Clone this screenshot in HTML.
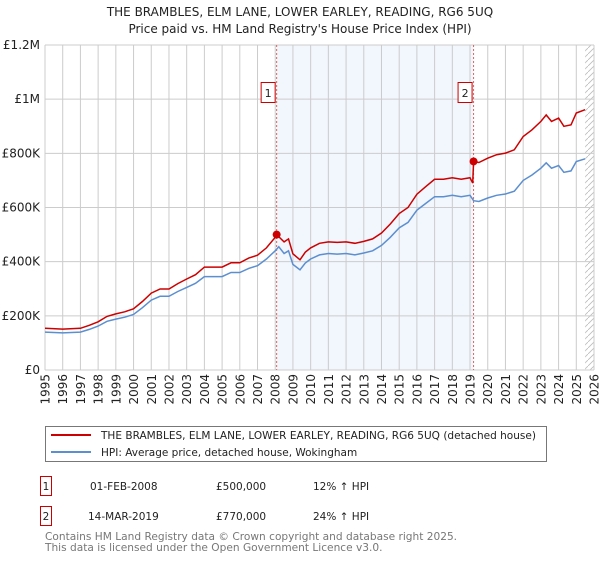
<!DOCTYPE html>
<html><head><meta charset="utf-8"><style>
body{margin:0;background:#fff;width:600px;height:560px;overflow:hidden;font-family:"DejaVu Sans","Liberation Sans",sans-serif;}
svg text{font-family:"DejaVu Sans","Liberation Sans",sans-serif;}
</style></head><body>
<svg id="chart" width="600" height="560" xmlns="http://www.w3.org/2000/svg">
<text x="300" y="16" text-anchor="middle" font-size="12" fill="#222">THE BRAMBLES, ELM LANE, LOWER EARLEY, READING, RG6 5UQ</text>
<text x="300" y="33" text-anchor="middle" font-size="12" fill="#222">Price paid vs. HM Land Registry's House Price Index (HPI)</text>
<g id="plot"></g>
<g>
<rect x="45.5" y="426.5" width="501" height="35" fill="#fff" stroke="#777"/>
<line x1="51" y1="435" x2="91" y2="435" stroke="#cc0000" stroke-width="2"/>
<text x="101" y="439" font-size="10.5" textLength="435" lengthAdjust="spacingAndGlyphs" fill="#222">THE BRAMBLES, ELM LANE, LOWER EARLEY, READING, RG6 5UQ (detached house)</text>
<line x1="51" y1="452" x2="91" y2="452" stroke="#5b8fd0" stroke-width="2"/>
<text x="101" y="456" font-size="10.5" fill="#222">HPI: Average price, detached house, Wokingham</text>
</g>
<g font-size="10.5" fill="#222">
<rect x="40.5" y="476.5" width="11" height="19" fill="#fff" stroke="#cc0000"/>
<text x="46" y="490" text-anchor="middle">1</text>
<text x="90" y="490">01-FEB-2008</text><text x="216" y="490">£500,000</text><text x="313" y="490">12% ↑ HPI</text>
<rect x="40.5" y="506.5" width="11" height="19" fill="#fff" stroke="#cc0000"/>
<text x="46" y="520" text-anchor="middle">2</text>
<text x="88" y="520">14-MAR-2019</text><text x="216" y="520">£770,000</text><text x="313" y="520">24% ↑ HPI</text>
</g>
<text x="45" y="540" font-size="10.6" fill="#777">Contains HM Land Registry data © Crown copyright and database right 2025.</text>
<text x="45" y="551" font-size="10.6" fill="#777">This data is licensed under the Open Government Licence v3.0.</text>
</svg>
<script>
const yearTicks=[1995,1996,1997,1998,1999,2000,2001,2002,2003,2004,2005,2006,2007,2008,2009,2010,2011,2012,2013,2014,2015,2016,2017,2018,2019,2020,2021,2022,2023,2024,2025,2026];
const valueTicks=[0,200000,400000,600000,800000,1000000,1200000];
const valueTickLabels=["£0","£200K","£400K","£600K","£800K","£1M","£1.2M"];
const hpiDates=[1995,1996,1997,1997.5,1998,1998.5,1999,1999.5,2000,2000.5,2001,2001.5,2002,2002.5,2003,2003.5,2004,2004.5,2005,2005.5,2006,2006.5,2007,2007.5,2008,2008.2,2008.5,2008.75,2009,2009.4,2009.7,2010,2010.5,2011,2011.5,2012,2012.5,2013,2013.5,2014,2014.5,2015,2015.5,2016,2016.5,2017,2017.5,2018,2018.5,2019,2019.2,2019.5,2020,2020.5,2021,2021.5,2022,2022.5,2023,2023.3,2023.6,2024,2024.3,2024.7,2025,2025.5];
const hpiValues=[140,137,140,150,162,180,188,195,205,230,258,272,272,290,305,320,345,345,345,360,360,375,385,410,440,455,430,440,390,370,395,410,425,430,428,430,425,432,440,460,490,525,545,590,615,640,640,645,640,645,625,622,635,645,650,660,700,720,745,765,745,755,730,735,770,780];
const priceDates=[1995,1996,1997,1997.5,1998,1998.5,1999,1999.5,2000,2000.5,2001,2001.5,2002,2002.5,2003,2003.5,2004,2004.5,2005,2005.5,2006,2006.5,2007,2007.5,2008,2008.08,2008.5,2008.75,2009,2009.4,2009.7,2010,2010.5,2011,2011.5,2012,2012.5,2013,2013.5,2014,2014.5,2015,2015.5,2016,2016.5,2017,2017.5,2018,2018.5,2019,2019.15,2019.2,2019.5,2020,2020.5,2021,2021.5,2022,2022.5,2023,2023.3,2023.6,2024,2024.3,2024.7,2025,2025.5];
const priceValues=[154,151,154,165,178,198,207,215,226,253,284,299,299,319,336,352,380,380,380,396,396,413,424,451,490,500,473,484,429,407,435,451,468,473,471,473,468,475,484,506,539,578,600,649,677,704,704,710,704,710,690,770,766,782,795,801,813,862,887,918,942,918,930,900,905,949,961];
const saleDates=[2008.08,2019.2];
const saleValues=[500,770];
const saleLabels=["1","2"];

const NS="http://www.w3.org/2000/svg";
const L=45,R=594,T=45,B=370;
const x=d=>L+(d-1995)/(2026-1995)*(R-L);
const y=v=>B-v/1200000*(B-T);
const yk=v=>y(v*1000);
const g=document.getElementById('plot');
function el(t,a,p){const e=document.createElementNS(NS,t);for(const k in a)e.setAttribute(k,a[k]);(p||g).appendChild(e);return e;}
const defs=el('defs',{});
const pat=el('pattern',{id:'hatch',width:6,height:6,patternUnits:'userSpaceOnUse'},defs);
el('line',{x1:0,y1:6,x2:6,y2:0,stroke:'#bbb','stroke-width':0.8},pat);
const shade=el('rect',{x:x(saleDates[0]),y:T,width:x(saleDates[1])-x(saleDates[0]),height:B-T,fill:'#eef3fc',opacity:0.75});


const hatch=el('rect',{x:x(2025.5),y:T,width:R-x(2025.5),height:B-T,fill:'url(#hatch)'});


yearTicks.forEach(d=>{
  const ln=el('line',{x1:x(d),x2:x(d),y1:T,y2:B,stroke:'#ccc','stroke-width':1});
  
  
  const t=el('text',{x:0,y:0,'font-size':12,fill:'#222','text-anchor':'end',transform:`translate(${x(d)+4.5},374) rotate(-90)`});
  t.textContent=d;
  
  
});
valueTicks.forEach((v,i)=>{
  const ln=el('line',{x1:L,x2:R,y1:y(v),y2:y(v),stroke:'#ccc','stroke-width':1});
  
  
  const t=el('text',{x:L-5,y:y(v)+4,'font-size':12,fill:'#222','text-anchor':'end'});
  t.textContent=valueTickLabels[i];
  
  
});
saleDates.forEach((d,i)=>{
  const ln=el('line',{x1:x(d),x2:x(d),y1:T,y2:B,stroke:'#e06060','stroke-width':1,'stroke-dasharray':'2,2'});
  
  
});
function path(ds,vs,color,name){
  const p=el('path',{d:ds.map((d,i)=>(i?'L':'M')+x(d).toFixed(1)+','+yk(vs[i]).toFixed(1)).join(''),fill:'none',stroke:color,'stroke-width':1.5});
  
  
}
path(hpiDates,hpiValues,'#5b8fd0','hpi-line');
path(priceDates,priceValues,'#cc0000','price-paid-line');
saleDates.forEach((d,i)=>{
  const c=el('circle',{cx:x(d),cy:yk(saleValues[i]),r:4,fill:'#cc0000'});
  
  
  const bx=x(d)-16;
  const r=el('rect',{x:bx+0.5,y:82.5,width:14,height:20,fill:'#fff',stroke:'#cc0000'});
  
  
  const t=el('text',{x:bx+7.5,y:97,'font-size':11,fill:'#222','text-anchor':'middle'});
  t.textContent=saleLabels[i];
  
  
});
</script>
</body></html>
